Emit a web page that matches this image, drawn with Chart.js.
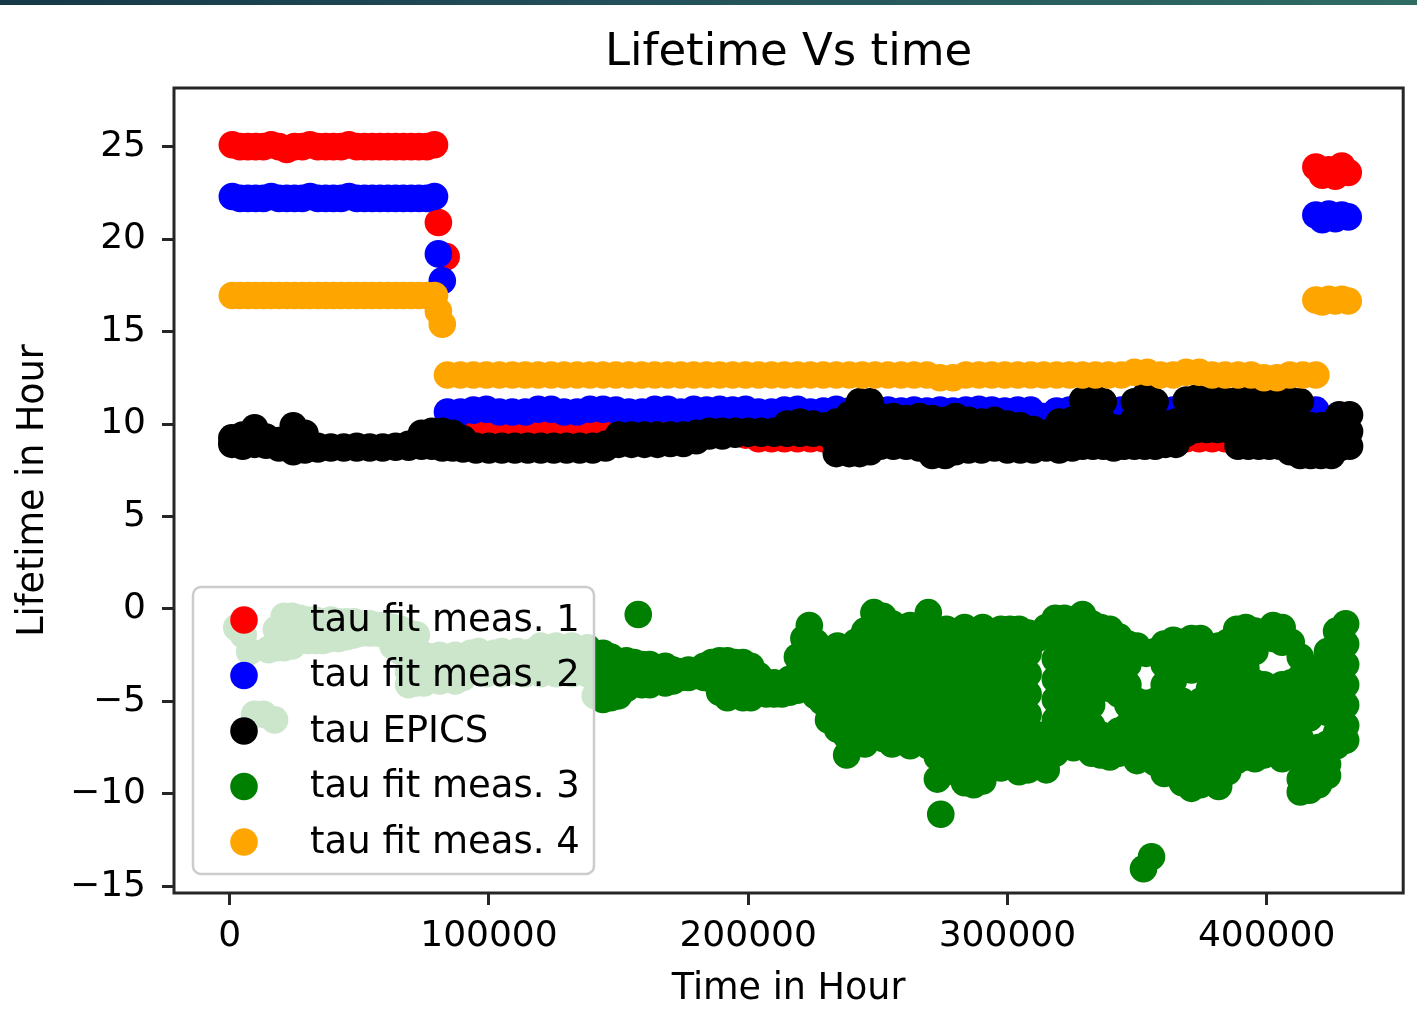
<!DOCTYPE html>
<html>
<head>
<meta charset="utf-8">
<title>Lifetime Vs time</title>
<script src="https://cdn.jsdelivr.net/npm/chart.js@4.4.1/dist/chart.umd.min.js"></script>
<style>
  html, body { margin: 0; padding: 0; background: #fff; }
  #wrap { position: relative; width: 1417px; height: 1026px; }
  #topbar { position: absolute; left: 0; top: 0; width: 1417px; height: 5px;
            background: linear-gradient(90deg, #163847 0%, #23505a 45%, #2f6c64 100%); }
  canvas { display: block; }
</style>
</head>
<body>
<div id="wrap">
  <canvas id="chart" width="1417" height="1026"></canvas>
  <div id="topbar"></div>
</div>
<script>
// Axis ticks
const xTicks = [0, 100000, 200000, 300000, 400000];
const yTicks = [-15, -10, -5, 0, 5, 10, 15, 20, 25];

const seriesNames = ['tau fit meas. 1', 'tau fit meas. 2', 'tau EPICS', 'tau fit meas. 3', 'tau fit meas. 4'];
const seriesColors = ['#ff0000', '#0000ff', '#000000', '#008000', '#ffa500'];

// First run (before the drop)
const earlyTimes = [1000, 4000, 7000, 10000, 13000, 16000, 19000, 22000, 25000, 28000, 31000, 34000, 37000,
  40000, 43000, 46000, 49000, 52000, 55000, 58000, 61000, 64000, 67000, 70000, 73000, 76000, 79000];
const fit1Early = [25.1, 25.0, 25.0, 25.0, 25.0, 25.1, 25.0, 24.85, 25.0, 25.0, 25.1, 25.0, 25.0,
  25.0, 25.0, 25.1, 25.0, 25.0, 25.0, 25.0, 25.0, 25.0, 25.0, 25.0, 25.0, 25.0, 25.1];
const fit2Early = [22.3, 22.2, 22.2, 22.2, 22.2, 22.3, 22.2, 22.2, 22.2, 22.2, 22.3, 22.2, 22.2,
  22.2, 22.2, 22.3, 22.2, 22.2, 22.2, 22.2, 22.2, 22.2, 22.2, 22.2, 22.2, 22.2, 22.3];
const fit4Early = [16.95, 16.95, 16.95, 16.95, 16.95, 16.95, 16.95, 16.95, 16.95, 16.95, 16.95, 16.95, 16.95,
  16.95, 16.95, 16.95, 16.95, 16.95, 16.95, 16.95, 16.95, 16.95, 16.95, 16.95, 16.95, 16.95, 16.95];

// points caught during the drop
const fit1Step = [[80500, 20.9], [83500, 19.05]];
const fit2Step = [[80500, 19.2], [82000, 17.75]];
const fit4Step = [[80500, 16.1], [82000, 15.4]];

// Long second run
const lateTimes = [84000, 89000, 94000, 99000, 104000, 109000, 114000, 119000, 124000, 129000, 134000, 139000,
  144000, 149000, 154000, 159000, 164000, 169000, 174000, 179000, 184000, 189000, 194000, 199000, 204000,
  209000, 214000, 219000, 224000, 229000, 234000, 239000, 244000, 249000, 254000, 259000, 264000, 269000,
  274000, 279000, 284000, 289000, 294000, 299000, 304000, 309000, 314000, 319000, 324000, 329000, 334000,
  339000, 344000, 349000, 354000, 359000, 364000, 369000, 374000, 379000, 384000, 389000, 394000, 399000,
  404000, 409000, 414000, 419000];
const fit1Late = [9.6, 9.6, 9.6, 9.6, 9.6, 9.6, 9.6, 9.6, 9.6, 9.6, 9.6, 9.6,
  9.6, 9.6, 9.6, 9.6, 9.6, 9.6, 9.6, 9.6, 9.6, 9.6, 9.6, 9.4, 9.2,
  9.2, 9.2, 9.2, 9.2, 9.2, 9.2, 9.4, 9.4, 9.4, 9.4, 9.4, 9.4, 9.4,
  9.4, 9.4, 9.4, 9.4, 9.4, 9.4, 9.4, 9.4, 9.4, 9.4, 9.4, 9.4, 9.4,
  9.4, 9.4, 9.4, 9.4, 9.4, 9.2, 9.2, 9.2, 9.2, 9.2, 9.4, 9.4, 9.4,
  9.4, 9.4, 9.4, 9.4];
const fit2Late = [10.65, 10.65, 10.75, 10.8, 10.65, 10.65, 10.65, 10.8, 10.8, 10.65, 10.65, 10.8,
  10.8, 10.75, 10.65, 10.65, 10.8, 10.8, 10.65, 10.8, 10.75, 10.8, 10.75, 10.8, 10.65,
  10.65, 10.75, 10.8, 10.65, 10.7, 10.8, 10.7, 10.75, 10.7, 10.75, 10.7, 10.75, 10.7,
  10.75, 10.7, 10.75, 10.8, 10.75, 10.7, 10.75, 10.75, 10.4, 10.7, 10.75, 10.7, 10.75,
  10.8, 10.75, 10.7, 10.75, 10.8, 10.75, 10.7, 10.75, 10.7, 10.75, 10.7, 10.75, 10.7,
  10.75, 10.7, 10.75, 10.75];
const fit4Late = [12.65, 12.65, 12.65, 12.65, 12.65, 12.65, 12.65, 12.65, 12.65, 12.65, 12.65, 12.65,
  12.65, 12.65, 12.65, 12.65, 12.65, 12.65, 12.65, 12.65, 12.65, 12.65, 12.65, 12.65, 12.65,
  12.65, 12.65, 12.65, 12.65, 12.65, 12.65, 12.65, 12.65, 12.65, 12.65, 12.65, 12.65, 12.65,
  12.5, 12.5, 12.65, 12.65, 12.65, 12.65, 12.65, 12.65, 12.65, 12.65, 12.65, 12.65, 12.65,
  12.65, 12.65, 12.8, 12.8, 12.65, 12.65, 12.8, 12.8, 12.65, 12.65, 12.65, 12.65, 12.5,
  12.5, 12.65, 12.65, 12.65];

// Short last run
const endTimes = [419000, 421500, 424000, 426500, 429000, 431500];
const fit1End = [23.9, 23.45, 23.75, 23.4, 23.95, 23.6];
const fit2End = [21.3, 21.05, 21.35, 21.1, 21.3, 21.2];
const fit4End = [16.7, 16.6, 16.75, 16.65, 16.75, 16.65];

// EPICS lifetime: [time, readings at that time]
const epicsCols = [
  [800, [9.25, 8.9]], [5000, [9.4, 8.8]], [9600, [9.8, 8.9]], [14000, [9.3, 8.85]], [19000, [9.1, 8.7]],
  [24500, [9.9, 8.5]], [29000, [9.5, 8.6]], [34000, [8.8, 8.65]], [39000, [8.75, 8.7]], [44000, [8.7, 8.75]],
  [49000, [8.8, 8.7]], [54000, [8.7, 8.75]], [59000, [8.75, 8.7]], [64000, [8.8, 8.75]], [69000, [8.9, 8.75]],
  [74000, [9.5, 8.8]], [78000, [9.6, 8.8]], [82000, [9.6, 8.7]], [86000, [9.5, 8.7]], [90000, [9.2, 8.65]],
  [95000, [8.8, 8.6]], [100000, [8.8, 8.6]], [105000, [8.8, 8.6]], [110000, [8.8, 8.6]], [115000, [8.8, 8.6]],
  [120000, [8.8, 8.6]], [125000, [8.8, 8.6]], [130000, [8.8, 8.6]], [135000, [8.8, 8.6]], [140000, [8.8, 8.6]],
  [145000, [8.9, 8.7]], [150000, [9.4, 8.9]], [155000, [9.4, 8.9]], [160000, [9.4, 8.9]], [165000, [9.4, 8.9]],
  [170000, [9.4, 8.95]], [175000, [9.4, 8.95]], [180000, [9.5, 9.1]], [185000, [9.6, 9.35]], [190000, [9.6, 9.35]],
  [195000, [9.6, 9.45]], [200000, [9.6, 9.5]], [205000, [9.6, 9.5]], [210000, [9.6, 9.5]], [215000, [10.0, 9.5]],
  [220000, [10.1, 9.5]], [225000, [10.0, 9.5]], [230000, [9.9, 9.5]], [234000, [10.1, 8.9, 8.4]],
  [239000, [10.5, 9.4, 8.4]], [243000, [11.2, 10.2, 9.2, 8.4]], [247000, [11.2, 10.1, 9.1, 8.5]],
  [251000, [10.4, 9.5, 8.8]], [256000, [10.4, 9.4, 8.8]], [261000, [10.3, 9.5, 8.8]], [266000, [10.4, 9.5, 8.7]],
  [271000, [10.3, 9.4, 8.3]], [276000, [10.2, 9.3, 8.3]], [280000, [10.4, 9.4, 8.5]], [285000, [10.2, 9.3, 8.6]],
  [290000, [10.1, 9.5, 8.6]], [295000, [10.2, 9.2, 8.7]], [300000, [10.0, 9.4, 8.6]], [305000, [9.9, 9.1, 8.6]],
  [310000, [9.7, 8.9, 8.6]], [315000, [9.5, 8.7]], [320000, [10.1, 9.2, 8.6]], [325000, [10.2, 9.4, 8.7]],
  [329000, [11.3, 10.3, 9.4, 8.8]], [333000, [11.5, 10.5, 9.5, 8.8]], [337000, [11.2, 10.1, 9.2, 8.8]],
  [341000, [9.8, 9.0, 8.7]], [345000, [9.8, 8.9, 8.8]], [349000, [11.2, 10.3, 9.4, 8.8]],
  [353000, [11.5, 10.5, 9.5, 8.8]], [357000, [11.2, 10.2, 9.3, 8.8]], [361000, [10.0, 9.2, 8.9]],
  [365000, [10.1, 9.3, 8.9]], [369000, [11.3, 10.3, 9.5]], [373000, [11.4, 10.5, 9.7]], [377000, [11.3, 10.4, 9.7]],
  [381000, [11.4, 10.4, 9.7]], [385000, [11.2, 10.3, 9.7]], [389000, [11.3, 10.2, 9.3, 8.8]],
  [393000, [11.4, 10.3, 9.2, 8.8]], [397000, [11.2, 10.1, 9.1, 8.8]], [401000, [11.3, 10.2, 9.2, 8.8]],
  [405000, [11.1, 10.1, 9.1, 8.8]], [409000, [11.3, 10.1, 8.9, 8.5]], [413000, [11.2, 9.9, 8.8, 8.3]],
  [417000, [9.9, 9.1, 8.3]], [421000, [9.9, 9.1, 8.3]], [425000, [10.0, 9.2, 8.3]], [428000, [10.5, 9.5, 8.7]],
  [432000, [10.5, 9.6, 8.8]]
];

// fit 3: [time, fitted lifetimes at that time]
const fit3Cols = [
  // first stretch, behind the legend
  [2700, [-1.0]], [5200, [-1.4]], [7700, [-2.3]], [9600, [-5.7]], [13000, [-5.7]], [17300, [-6.0]],
  [15000, [-2.2]], [18000, [-1.1, -2.1]], [21000, [-0.4, -1.5, -2.1]], [24000, [-0.4, -1.5, -2.0]],
  [27000, [-0.5, -1.6]], [30000, [-0.6, -1.7]], [33000, [-0.6, -1.7]], [36000, [-0.7, -1.7]],
  [39000, [-0.6, -1.6]], [42000, [-0.7, -1.6]], [45000, [-0.7, -1.5]], [48000, [-0.7, -1.4]],
  [51000, [-0.8, -1.3]], [54000, [-0.8, -1.3]], [57000, [-0.9, -1.3]], [60000, [-0.9, -1.4]],
  [63000, [-1.0, -2.0]], [66000, [-1.1, -2.3]], [69000, [-1.3, -2.4, -3.4, -4.1]],
  [72000, [-1.4, -2.5, -3.6, -4.0]], [75000, [-2.5, -3.6, -4.0]], [78000, [-2.6, -3.7]],
  [81000, [-2.5, -3.6, -3.9]], [84000, [-2.7, -3.8]], [87000, [-2.5, -3.6, -3.9]], [90000, [-2.6, -3.7]],
  [93000, [-2.4, -3.4]], [96000, [-2.3, -3.4]], [99000, [-2.5, -3.5]], [102000, [-2.4, -3.3]],
  [105000, [-2.3, -3.5]], [108000, [-2.5, -3.3]], [111000, [-2.3, -3.4]], [114000, [-2.4, -3.5]],
  [117000, [-2.3, -3.3]], [120000, [-2.0, -3.1, -3.5]], [123000, [-2.1, -3.2]], [126000, [-2.0, -3.1, -3.5]],
  [129000, [-2.1, -3.3]], [132000, [-2.0, -3.1, -3.5]], [135000, [-2.2, -3.3]], [138000, [-2.1, -3.2, -3.5]],
  // steady band
  [141000, [-2.5, -3.6, -4.7]], [144000, [-2.4, -3.5, -4.9]], [147000, [-2.6, -3.7, -4.8]],
  [150000, [-3.0, -4.1, -4.7]], [153000, [-2.8, -3.9, -4.3]], [156000, [-2.9, -4.0]], [157600, [-0.3]],
  [159000, [-3.0, -4.1]], [162000, [-3.0, -4.1]], [165000, [-3.2, -3.9]], [168000, [-3.1, -4.0]],
  [171000, [-3.3, -3.9]], [174000, [-3.4, -3.7]], [177000, [-3.3, -3.7]], [180000, [-3.4, -3.6]],
  [183000, [-3.1, -3.7]], [186000, [-2.9, -3.8]], [189000, [-2.8, -3.9, -4.5]], [192000, [-2.8, -3.8, -4.8]],
  [195000, [-2.9, -3.9, -4.6]], [198000, [-2.9, -3.9, -4.8]], [201000, [-3.1, -4.0, -4.8]],
  [204000, [-3.6, -4.4]], [207000, [-4.0, -4.6]], [210000, [-4.0, -4.6]], [213000, [-4.1, -4.6]],
  [216000, [-3.8, -4.5]], [219000, [-2.6, -3.7, -4.4]], [221500, [-1.6, -2.7, -3.8]],
  [223600, [-0.9, -2.0, -3.1, -4.2]], [226000, [-1.8, -2.9, -4.0, -4.7]], [228500, [-2.8, -3.9, -5.0]],
  // scattered cloud
  [231000, [-3.2, -4.3, -5.4, -6.0]], [234500, [-2.0, -3.1, -4.2, -5.3, -6.5]],
  [238000, [-2.5, -3.6, -4.7, -5.8, -6.9, -7.9]], [241500, [-1.8, -2.9, -4.0, -5.1, -6.2, -7.3]],
  [245000, [-1.2, -2.3, -3.4, -4.5, -5.6, -6.7, -7.3]], [248500, [-0.2, -1.3, -2.4, -3.5, -4.6, -5.7, -6.8]],
  [252000, [-0.4, -1.5, -2.6, -3.7, -4.8, -5.9, -7.0]], [255500, [-0.8, -1.9, -3.0, -4.1, -5.2, -6.3, -7.3]],
  [259000, [-1.0, -2.1, -3.2, -4.3, -5.4, -6.5, -7.0]], [262500, [-0.9, -2.0, -3.1, -4.2, -5.3, -6.4, -7.4]],
  [266000, [-1.3, -2.4, -3.5, -4.6, -5.7, -6.8]], [269500, [-0.2, -1.3, -2.4, -3.5, -4.6, -5.7, -6.8, -7.4]],
  [273000, [-1.4, -2.5, -3.6, -4.7, -5.8, -6.9, -8.0, -9.2]], [274300, [-11.1]],
  [276500, [-1.1, -2.2, -3.3, -4.4, -5.5, -6.6, -7.7, -8.8]], [280000, [-1.6, -2.7, -3.8, -4.9, -6.0, -7.1, -8.2]],
  [283500, [-1.0, -2.1, -3.2, -4.3, -5.4, -6.5, -7.6, -8.7, -9.4]],
  [287000, [-1.6, -2.7, -3.8, -4.9, -6.0, -7.1, -8.2, -9.5]],
  [290500, [-1.0, -2.1, -3.2, -4.3, -5.4, -6.5, -7.6, -8.7, -9.3]],
  [294000, [-1.7, -2.8, -3.9, -5.0, -6.1, -7.2, -8.1]],
  [297500, [-1.1, -2.2, -3.3, -4.4, -5.5, -6.6, -7.7, -8.6]],
  [301000, [-1.1, -2.2, -3.3, -4.4, -5.5, -6.6, -7.7, -8.5]],
  [304500, [-1.1, -2.2, -3.3, -4.4, -5.5, -6.6, -7.7, -8.8]],
  [308000, [-1.3, -2.4, -3.5, -4.6, -5.7, -6.8, -7.9, -8.7]],
  [311500, [-1.6, -6.8, -7.6, -8.5]], [315000, [-1.0, -7.0, -8.0, -8.7]],
  [318500, [-0.5, -1.6, -2.7, -3.8, -4.9, -6.0, -7.1, -7.8]], [322000, [-0.5, -1.6, -2.7, -3.8, -4.9, -6.0, -7.1]],
  [325500, [-0.6, -1.7, -2.8, -3.9, -5.0, -6.1, -7.2, -7.5]],
  [329000, [-0.3, -1.4, -2.5, -3.6, -4.7, -5.8, -6.9, -7.4]],
  [332500, [-0.8, -1.9, -3.0, -4.1, -5.2, -6.3, -7.4, -7.8]],
  [336000, [-1.0, -2.1, -3.2, -4.3, -6.8, -7.9]], [339500, [-1.1, -2.2, -3.3, -4.3, -7.0, -8.0]],
  [343000, [-1.5, -2.6, -3.7, -4.6, -6.6, -7.8]], [346500, [-1.9, -3.0, -4.1, -5.2, -6.3, -7.4]],
  [350000, [-2.0, -5.0, -6.1, -7.2, -8.2]], [352500, [-14.05]], [353500, [-2.4, -5.1, -6.2, -7.3, -8.0]],
  [355600, [-13.4]], [357000, [-2.3, -5.0, -6.1, -7.2, -8.3]],
  [360500, [-1.9, -3.0, -4.1, -5.2, -6.3, -7.4, -8.5, -8.9]],
  [364000, [-1.7, -2.8, -3.9, -5.0, -6.1, -7.2, -8.3, -8.6]],
  [367500, [-1.8, -2.9, -5.0, -6.1, -7.2, -8.3, -9.4]],
  [371000, [-1.6, -2.7, -3.3, -5.2, -6.3, -7.4, -8.5, -9.7]],
  [374500, [-1.6, -2.8, -5.0, -6.1, -7.2, -8.3, -9.5]],
  [378000, [-2.1, -3.2, -4.3, -5.4, -6.5, -7.6, -8.7, -9.2]],
  [381500, [-2.0, -3.1, -4.2, -5.3, -6.4, -7.5, -8.6, -9.6]],
  [385000, [-1.8, -2.9, -4.0, -5.1, -6.2, -7.3, -8.4, -8.8]],
  [388500, [-1.1, -2.2, -3.3, -4.4, -5.5, -6.6, -7.7, -8.2]],
  [392000, [-1.0, -2.1, -3.2, -4.3, -5.4, -6.5, -7.6, -8.0]],
  [395500, [-1.2, -2.3, -4.0, -5.1, -6.2, -7.3, -8.1]], [399000, [-1.3, -4.1, -5.2, -6.3, -7.4, -7.9]],
  [402500, [-0.9, -1.6, -4.3, -5.4, -6.5, -7.4]], [406000, [-1.0, -1.8, -4.1, -5.2, -6.3, -7.4, -8.1]],
  [409500, [-1.8, -4.0, -5.1, -6.2, -7.3, -7.8]],
  [413000, [-2.6, -3.7, -4.8, -5.9, -7.0, -8.1, -9.2, -9.9]],
  [416500, [-3.2, -4.3, -5.4, -5.9, -7.6, -8.7, -9.8]], [420000, [-3.3, -4.4, -5.5, -7.5, -8.6, -9.5]],
  [423500, [-2.3, -3.4, -4.5, -5.6, -7.3, -8.4, -9.0]], [427000, [-1.2, -2.3, -3.4, -4.5, -5.6, -6.7, -7.4]],
  [430500, [-0.8, -1.9, -3.0, -4.1, -5.2, -6.3, -7.1]]
];

function zipPoints(times, values) {
  return times.map((t, i) => ({ x: t, y: values[i] }));
}
function pairPoints(pairs) {
  return pairs.map(([t, v]) => ({ x: t, y: v }));
}
function columnPoints(cols) {
  const pts = [];
  cols.forEach(([t, vals]) => vals.forEach(v => pts.push({ x: t, y: v })));
  return pts;
}

const fit1 = [].concat(zipPoints(earlyTimes, fit1Early), pairPoints(fit1Step),
  zipPoints(lateTimes, fit1Late), zipPoints(endTimes, fit1End));
const fit2 = [].concat(zipPoints(earlyTimes, fit2Early), pairPoints(fit2Step),
  zipPoints(lateTimes, fit2Late), zipPoints(endTimes, fit2End));
const epics = columnPoints(epicsCols);
const fit3 = columnPoints(fit3Cols);
const fit4 = [].concat(zipPoints(earlyTimes, fit4Early), pairPoints(fit4Step),
  zipPoints(lateTimes, fit4Late), zipPoints(endTimes, fit4End));

const allSeries = [fit1, fit2, epics, fit3, fit4];
const markerRadius = 13.8;

const minusSign = v => (v < 0 ? '\u2212' + Math.abs(v) : String(v));

// frame around the plot plus the legend box in the lower-left corner
const frameAndLegend = {
  id: 'frameAndLegend',
  afterDatasetsDraw(chart) {
    const { ctx, chartArea: a } = chart;
    ctx.save();
    ctx.strokeStyle = '#262626';
    ctx.lineWidth = 3;
    ctx.strokeRect(a.left, a.top, a.right - a.left, a.bottom - a.top);

    const w = 401, h = 287;
    const x = a.left + 19, y = a.bottom - 19 - h;
    ctx.beginPath();
    ctx.roundRect(x, y, w, h, 8);
    ctx.fillStyle = 'rgba(255,255,255,0.8)';
    ctx.fill();
    ctx.lineWidth = 2.5;
    ctx.strokeStyle = '#cccccc';
    ctx.stroke();

    ctx.font = '37px "DejaVu Sans"';
    ctx.textBaseline = 'middle';
    ctx.textAlign = 'left';
    chart.data.datasets.forEach((ds, i) => {
      const rowY = y + 33 + i * 55.5;
      ctx.beginPath();
      ctx.arc(x + 51, rowY, markerRadius, 0, Math.PI * 2);
      ctx.fillStyle = ds.backgroundColor;
      ctx.fill();
      ctx.fillStyle = '#000';
      ctx.fillText(ds.label, x + 117, rowY + 1);
    });
    ctx.restore();
  }
};

Chart.defaults.font.family = '"DejaVu Sans", sans-serif';

const tickGrid = {
  drawOnChartArea: false,
  drawTicks: true,
  tickLength: 12,
  tickWidth: 3,
  tickColor: '#262626'
};

new Chart(document.getElementById('chart'), {
  type: 'scatter',
  data: {
    datasets: allSeries.map((pts, i) => ({
      label: seriesNames[i],
      data: pts,
      backgroundColor: seriesColors[i],
      borderWidth: 0,
      pointRadius: markerRadius,
      pointHoverRadius: markerRadius,
      order: allSeries.length - i   // first series underneath, last on top
    }))
  },
  options: {
    responsive: false,
    animation: false,
    devicePixelRatio: 1,
    events: [],
    layout: { padding: { top: 0, right: 5.5, bottom: 0, left: 0 } },
    plugins: {
      legend: { display: false },
      tooltip: { enabled: false },
      title: {
        display: true,
        fullSize: false,
        text: 'Lifetime Vs time',
        color: '#000',
        font: { size: 45, weight: 'normal' },
        padding: { top: 26.4, bottom: 7.6 }
      }
    },
    scales: {
      x: {
        type: 'linear',
        position: 'bottom',
        min: -21500,
        max: 452700,
        afterBuildTicks: s => { s.ticks = xTicks.map(v => ({ value: v })); },
        afterFit: s => { s.height = 133; },
        grid: tickGrid,
        border: { display: false },
        ticks: { color: '#000', font: { size: 36 }, padding: 10, maxRotation: 0, autoSkip: false,
                 callback: v => minusSign(v) },
        title: { display: true, text: 'Time in Hour', color: '#000', font: { size: 36.5 },
                 padding: { top: 0, bottom: 14.9 } }
      },
      y: {
        type: 'linear',
        position: 'left',
        min: -15.36,
        max: 28.17,
        afterBuildTicks: s => { s.ticks = yTicks.map(v => ({ value: v })); },
        afterFit: s => { s.width = 174; },
        grid: tickGrid,
        border: { display: false },
        ticks: { color: '#000', font: { size: 36 }, padding: 16, autoSkip: false,
                 callback: v => minusSign(v) },
        title: { display: true, text: 'Lifetime in Hour', color: '#000', font: { size: 36.5 },
                 padding: { top: 11.9, bottom: 0 } }
      }
    }
  },
  plugins: [frameAndLegend]
});
</script>
</body>
</html>
